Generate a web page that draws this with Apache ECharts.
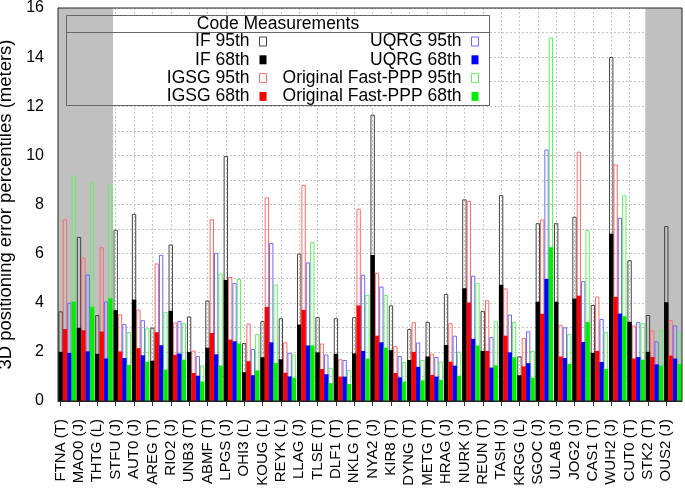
<!DOCTYPE html>
<html>
<head>
<meta charset="utf-8">
<script src="https://cdn.jsdelivr.net/npm/echarts@6/dist/echarts.min.js"></script>
<style>html,body{margin:0;padding:0;background:#fff}#c{width:685px;height:491px}</style>
</head>
<body>
<div id="c"></div>
<script>
const categories = ['FTNA (T)','MAO0 (J)','THTG (L)','STFU (J)','AUT0 (J)','AREG (T)','RIO2 (J)','UNB3 (T)','ABMF (T)','LPGS (J)','OHI3 (L)','KOUG (L)','REYK (L)','LLAG (J)','TLSE (T)','DLF1 (T)','NKLG (T)','NYA2 (J)','KIR8 (T)','DYNG (T)','METG (T)','HRAG (J)','NURK (J)','REUN (T)','TASH (J)','KRGG (L)','SGOC (J)','ULAB (J)','JOG2 (J)','CAS1 (T)','WUH2 (J)','CUT0 (T)','STK2 (T)','OUS2 (J)'];
const if95   = [3.65,6.68,3.5,6.97,7.62,2.99,6.37,3.44,4.09,9.97,2.36,3.25,3.37,6.0,3.41,3.37,3.41,11.66,3.89,2.93,3.22,4.36,8.21,3.67,8.38,1.82,7.24,7.24,7.5,3.91,14.0,5.73,3.5,7.12];
const if68   = [2.0,2.98,1.92,3.7,4.13,1.64,3.67,2.0,2.17,4.93,1.17,1.78,1.7,3.11,1.98,1.92,1.94,5.94,2.07,1.67,1.81,2.28,4.59,2.04,4.73,1.05,4.04,4.04,4.17,1.96,6.81,3.22,2.0,4.02];
const igsg95 = [7.4,5.84,6.26,3.53,3.72,5.6,3.19,2.05,7.4,5.05,3.15,8.29,2.39,8.8,2.34,1.7,7.83,5.22,2.23,3.21,1.92,3.17,8.15,4.1,4.58,2.57,7.39,3.1,10.15,4.25,9.63,3.07,2.88,3.29];
const igsg68 = [2.93,2.88,2.83,2.02,2.15,2.8,1.88,1.14,2.77,2.5,1.62,3.83,1.15,3.71,1.3,0.99,3.89,2.66,1.14,2.0,1.06,1.6,4.01,2.04,2.66,1.41,3.55,1.81,4.29,2.04,4.24,1.73,1.79,1.85];
const uqrg95 = [4.0,5.15,4.05,3.14,3.29,5.95,3.26,1.83,6.03,4.81,2.12,6.43,1.96,5.64,1.89,1.67,5.14,4.66,1.83,2.38,1.79,2.66,5.1,2.6,3.52,2.84,10.24,3.0,4.88,3.34,7.46,3.21,2.43,3.08];
const uqrg68 = [1.96,2.02,1.73,1.75,1.86,2.27,1.93,1.03,1.9,2.43,1.05,2.39,1.0,2.26,1.09,0.99,2.04,2.39,0.96,1.39,0.99,1.44,2.53,1.36,1.98,1.54,4.97,1.75,2.4,1.59,3.56,1.79,1.49,1.73];
const fppp95 = [9.18,8.93,8.79,2.81,2.96,3.63,3.17,1.45,5.19,4.97,2.73,4.74,1.9,6.47,1.35,1.26,4.32,4.32,1.59,1.67,1.6,2.01,4.8,3.25,3.22,2.04,14.8,2.73,6.96,2.81,8.38,3.18,2.91,2.8];
const fppp68 = [4.05,3.83,4.18,1.47,1.6,1.28,1.68,0.79,1.44,2.34,1.24,1.55,0.95,2.26,0.73,0.69,1.73,2.17,0.79,0.84,0.86,1.03,2.26,1.45,1.78,0.95,6.26,1.51,3.21,1.3,3.45,1.68,1.44,1.51];
const shadedRanges = [[0,3],[32,34]];
const legendTitle = 'Code Measurements';
const yTitle = '3D positioning error percentiles (meters)';

const FF = '"Liberation Sans", Arial, Helvetica, sans-serif';
const GL = 58, GT = 8, GW = 624, GH = 393;
const band = GW / categories.length;
const catGap = 0.05;
const firstBarOffset = band * catGap / 2 + band * (1 - catGap) / 8;

function hollow(name, data, stroke) {
  return {
    name, type: 'bar', xAxisIndex: 0, yAxisIndex: 0, data,
    barGap: '0%', barCategoryGap: (catGap * 100) + '%',
    itemStyle: { color: 'rgba(255,255,255,0)', borderColor: stroke, borderWidth: 1 },
    z: 3, silent: true, animation: false
  };
}
function filled(name, data, fill) {
  return {
    name, type: 'bar', xAxisIndex: 1, yAxisIndex: 0, data,
    barGap: '0%', barCategoryGap: (catGap * 100) + '%',
    itemStyle: { color: fill, borderWidth: 0 },
    z: 4, silent: true, animation: false
  };
}
const dotted = { color: '#c4c4c4', width: 1, type: [2, 2] };
const legendCommon = {
  orient: 'vertical', align: 'right', top: 32.5, padding: 0,
  itemWidth: 7, itemHeight: 9, itemGap: 0.3, icon: 'rect', selectedMode: false,
  textStyle: { fontSize: 17.5, fontFamily: FF, color: '#000', lineHeight: 18, padding: [0, 5, 0, 0] },
  itemStyle: { borderWidth: 1 }
};

const chart = echarts.init(document.getElementById('c'), null, { renderer: 'canvas' });
chart.setOption({
  animation: false,
  backgroundColor: '#fff',
  grid: [
    { left: GL, top: GT, width: GW, height: GH, outerBoundsMode: 'none', containLabel: false, show: true, z: 10, backgroundColor: 'transparent', borderColor: '#222', borderWidth: 1 },
    { left: GL + firstBarOffset, top: GT, width: band * (categories.length - 1), height: GH, outerBoundsMode: 'none', containLabel: false, show: false }
  ],
  xAxis: [
    { type: 'category', gridIndex: 0, data: categories, axisLine: { show: true, lineStyle: { color: '#222' } }, axisTick: { show: false }, axisLabel: { show: false }, splitLine: { show: false } },
    { type: 'category', gridIndex: 0, data: categories, show: false },
    { type: 'category', gridIndex: 1, data: categories, boundaryGap: false,
      axisLine: { show: false },
      axisTick: { show: true, interval: 0, inside: false, length: 5, lineStyle: { color: '#333' } },
      axisLabel: { interval: 0, rotate: 90, margin: 18, fontSize: 15, fontFamily: FF, color: '#000' },
      splitLine: { show: true, interval: 0, lineStyle: dotted } },
    { type: 'value', gridIndex: 0, min: 0, max: categories.length, show: false }
  ],
  yAxis: [
    { type: 'value', gridIndex: 0, min: 0, max: 16, interval: 1,
      name: yTitle, nameLocation: 'middle', nameGap: 34,
      nameTextStyle: { fontSize: 18.5, fontFamily: FF, color: '#000' },
      axisLine: { show: true, lineStyle: { color: '#222' } },
      axisTick: { show: true, inside: true, length: 5, lineStyle: { color: '#333' } },
      axisLabel: { margin: 14, fontSize: 16, fontFamily: FF, color: '#000', formatter: v => (v % 2 === 0 ? String(v) : '') },
      splitLine: { show: true, lineStyle: dotted } },
    { type: 'value', gridIndex: 0, min: 0, max: 16, interval: 1, position: 'right',
      axisLine: { show: false }, axisLabel: { show: false }, splitLine: { show: false },
      axisTick: { show: true, inside: true, length: 5, lineStyle: { color: '#333' } } },
    { type: 'value', gridIndex: 1, min: 0, max: 16, show: false }
  ],
  legend: [
    Object.assign({}, legendCommon, { right: 685 - 267, data: ['IF 95th', 'IF 68th', 'IGSG 95th', 'IGSG 68th'] }),
    Object.assign({}, legendCommon, { right: 685 - 479, data: ['UQRG 95th', 'UQRG 68th', 'Original Fast-PPP 95th', 'Original Fast-PPP 68th'] })
  ],
  graphic: [
    { type: 'rect', z: 1, silent: true, shape: { x: 66.5, y: 15.5, width: 423, height: 90 }, style: { fill: '#fff', stroke: null } },
    { type: 'rect', z: 20, silent: true, shape: { x: 66.5, y: 15.5, width: 423, height: 90 }, style: { fill: 'none', stroke: '#666', lineWidth: 1 } },
    { type: 'line', z: 20, silent: true, shape: { x1: 66.5, y1: 32.5, x2: 489.5, y2: 32.5 }, style: { stroke: '#666', lineWidth: 1 } },
    { type: 'text', z: 20, silent: true, x: 278, y: 24, style: { text: legendTitle, fontSize: 17.5, fontFamily: FF, fill: '#000', align: 'center', verticalAlign: 'middle' } }
  ],
  series: [
    { name: 'shade', type: 'line', xAxisIndex: 3, yAxisIndex: 0, data: [], z: 2, silent: true,
      markArea: { silent: true, z: 2, itemStyle: { color: '#c0c0c0', opacity: 1 },
        data: shadedRanges.map(r => [{ xAxis: r[0] }, { xAxis: r[1] }]) } },
    hollow('IF 95th', if95, '#444'),
    hollow('IGSG 95th', igsg95, '#ff6a6a'),
    hollow('UQRG 95th', uqrg95, '#6a6aff'),
    hollow('Original Fast-PPP 95th', fppp95, '#66ee66'),
    filled('IF 68th', if68, '#000000'),
    filled('IGSG 68th', igsg68, '#ff0000'),
    filled('UQRG 68th', uqrg68, '#0000ff'),
    filled('Original Fast-PPP 68th', fppp68, '#00ee00')
  ]
});
</script>
</body>
</html>
